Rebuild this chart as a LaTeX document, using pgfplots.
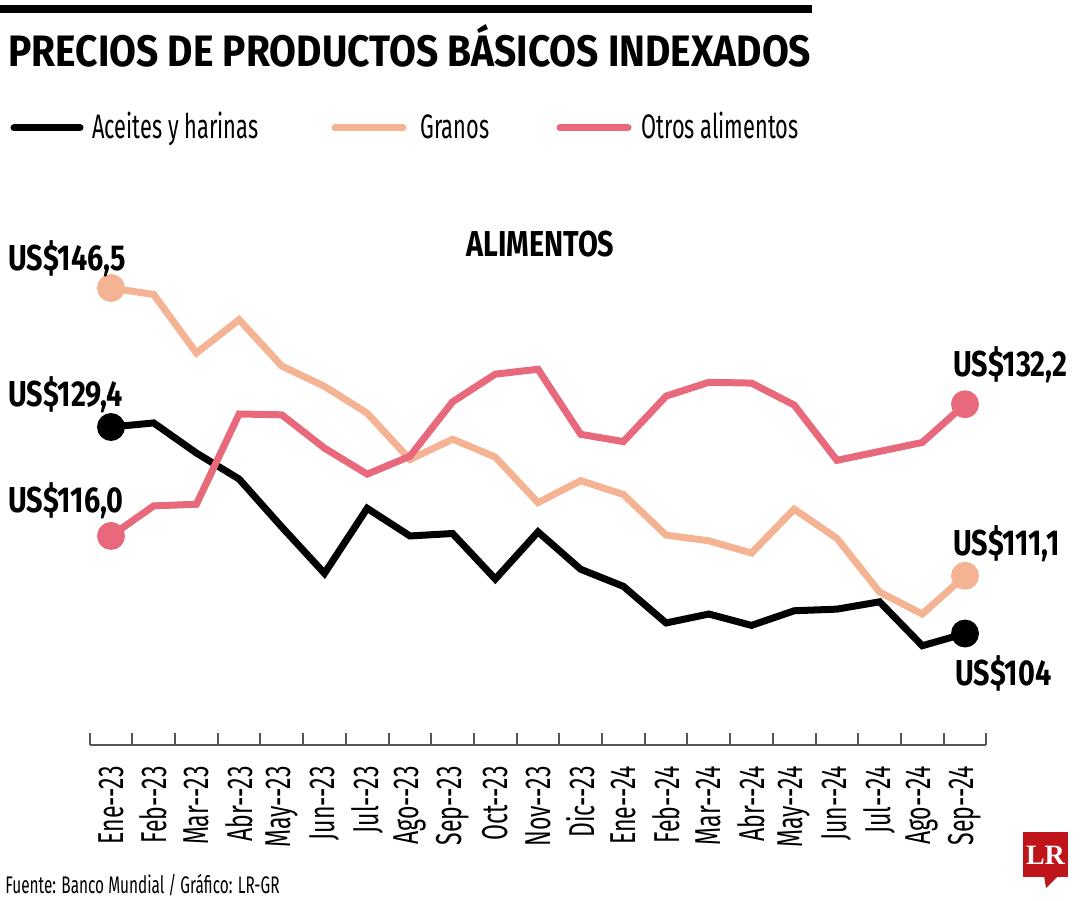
\documentclass[border=0pt]{standalone}
\usepackage{pgfplots}
\pgfplotsset{compat=1.18}
\usepackage{pgfplotstable}
\usepackage{fontspec}
\usetikzlibrary{calc}
\setmainfont{Fira Sans}
\newfontfamily\condfont{Fira Sans}[FakeStretch=0.64]
\newfontfamily\boldcond{Fira Sans}[FakeStretch=0.80]
\newfontfamily\titlefont{Fira Sans}[FakeStretch=0.885]
\newfontfamily\lrfont{Liberation Serif}
\definecolor{peach}{HTML}{F4B393}
\definecolor{pinkc}{HTML}{E8687C}
\definecolor{lrred}{HTML}{C0141B}
\definecolor{axgray}{HTML}{555555}

\pgfplotstableread{
x a g o
0 129.4 146.5 116.0
1 129.9 145.7 119.7
2 126.2 138.5 119.9
3 123.0 142.6 131.0
4 117.1 136.9 130.9
5 111.4 134.4 126.8
6 119.4 131.1 123.6
7 116.0 125.4 125.8
8 116.3 127.9 132.5
9 110.7 125.7 135.9
10 116.5 120.1 136.5
11 111.9 122.8 128.5
12 109.8 121.1 127.6
13 105.3 116.1 133.2
14 106.4 115.4 134.9
15 105.0 113.9 134.8
16 106.8 119.3 132.1
17 107.0 115.7 125.3
18 107.9 109.1 126.4
19 102.5 106.4 127.5
20 104.0 111.1 132.2
}\data

\begin{document}
\begin{tikzpicture}
\begin{axis}[
  name=ax,
  scale only axis,
  width=448.35pt, height=257.5pt,
  xmin=-0.5, xmax=20.5, ymin=90.29, ymax=153.63,
  clip=false,
  axis x line=bottom, axis y line=none,
  x axis line style={-, draw=axgray, line width=1pt},
  every outer x axis line/.append style={-},
  xtick={0,...,20},
  xticklabels={Ene--23,Feb--23,Mar--23,Abr--23,May--23,Jun--23,Jul--23,Ago--23,Sep--23,Oct--23,Nov--23,Dic--23,Ene--24,Feb--24,Mar--24,Abr--24,May--24,Jun--24,Jul--24,Ago--24,Sep--24},
  major tick length=0pt,
  minor xtick={-0.5,0.5,...,20.5},
  minor tick length=6pt,
  xtick align=inside,
  tick style={draw=axgray, line width=1pt},
  xticklabel style={rotate=90, anchor=east, inner sep=0pt, font=\condfont\fontsize{18}{18}\selectfont},
  xticklabel shift=10.5pt,
]
\addplot[peach, line width=3.5pt, mark=*, mark indices={1,21}, mark size=5.2pt, mark options={fill=peach, draw=none}] table[x=x,y=g]{\data};
\addplot[black, line width=3.5pt, mark=*, mark indices={1,21}, mark size=5.2pt, mark options={fill=black, draw=none}] table[x=x,y=a]{\data};
\addplot[pinkc, line width=3.5pt, mark=*, mark indices={1,21}, mark size=5.2pt, mark options={fill=pinkc, draw=none}] table[x=x,y=o]{\data};
\end{axis}
\begin{scope}[shift={($(ax.south west)+(-44.825pt,372.5pt)$)}, x=0.5pt, y=-0.5pt]
  \fill (0,5) rectangle (812,13);
  \node[anchor=base west, inner sep=0pt] at (8,67) {\titlefont\fontsize{22}{22}\selectfont\bfseries PRECIOS DE PRODUCTOS BÁSICOS INDEXADOS};
  \draw[line width=3.5pt, line cap=round, black] (14,128) -- (80,128);
  \node[anchor=base west, inner sep=0pt] at (92,139) {\condfont\fontsize{17}{17}\selectfont Aceites y harinas};
  \draw[line width=3.5pt, line cap=round, peach] (335,128) -- (403,128);
  \node[anchor=base west, inner sep=0pt] at (420,139) {\condfont\fontsize{17}{17}\selectfont Granos};
  \draw[line width=3.5pt, line cap=round, pinkc] (560,128) -- (628,128);
  \node[anchor=base west, inner sep=0pt] at (641,139) {\condfont\fontsize{17}{17}\selectfont Otros alimentos};
  \node[anchor=base west, inner sep=0pt] at (466,257) {\boldcond\fontsize{18}{18}\selectfont\bfseries ALIMENTOS};
  \node[anchor=base west, inner sep=0pt] at (8,271) {\boldcond\fontsize{18}{18}\selectfont\bfseries US\$146,5};
  \node[anchor=base west, inner sep=0pt] at (8,407) {\boldcond\fontsize{18}{18}\selectfont\bfseries US\$129,4};
  \node[anchor=base west, inner sep=0pt] at (8,512) {\boldcond\fontsize{18}{18}\selectfont\bfseries US\$116,0};
  \node[anchor=base west, inner sep=0pt] at (953,377) {\boldcond\fontsize{18}{18}\selectfont\bfseries US\$132,2};
  \node[anchor=base west, inner sep=0pt] at (953,555) {\boldcond\fontsize{18}{18}\selectfont\bfseries US\$111,1};
  \node[anchor=base west, inner sep=0pt] at (955,685) {\boldcond\fontsize{18}{18}\selectfont\bfseries US\$104};
  \node[anchor=base west, inner sep=0pt] at (5,893) {\condfont\fontsize{12}{12}\selectfont Fuente: Banco Mundial / Gráfico: LR-GR};
  \fill[lrred] (1023,832) rectangle (1068,877);
  \fill[lrred] (1044,876) -- (1058,876) -- (1046,888) -- cycle;
  \node[text=white, inner sep=0pt] at (1045.5,855) {\lrfont\fontsize{14}{14}\selectfont\bfseries LR};
  \pgfresetboundingbox
  \path[use as bounding box] (0,0) rectangle (1080,900);
\end{scope}
\end{tikzpicture}
\end{document}
